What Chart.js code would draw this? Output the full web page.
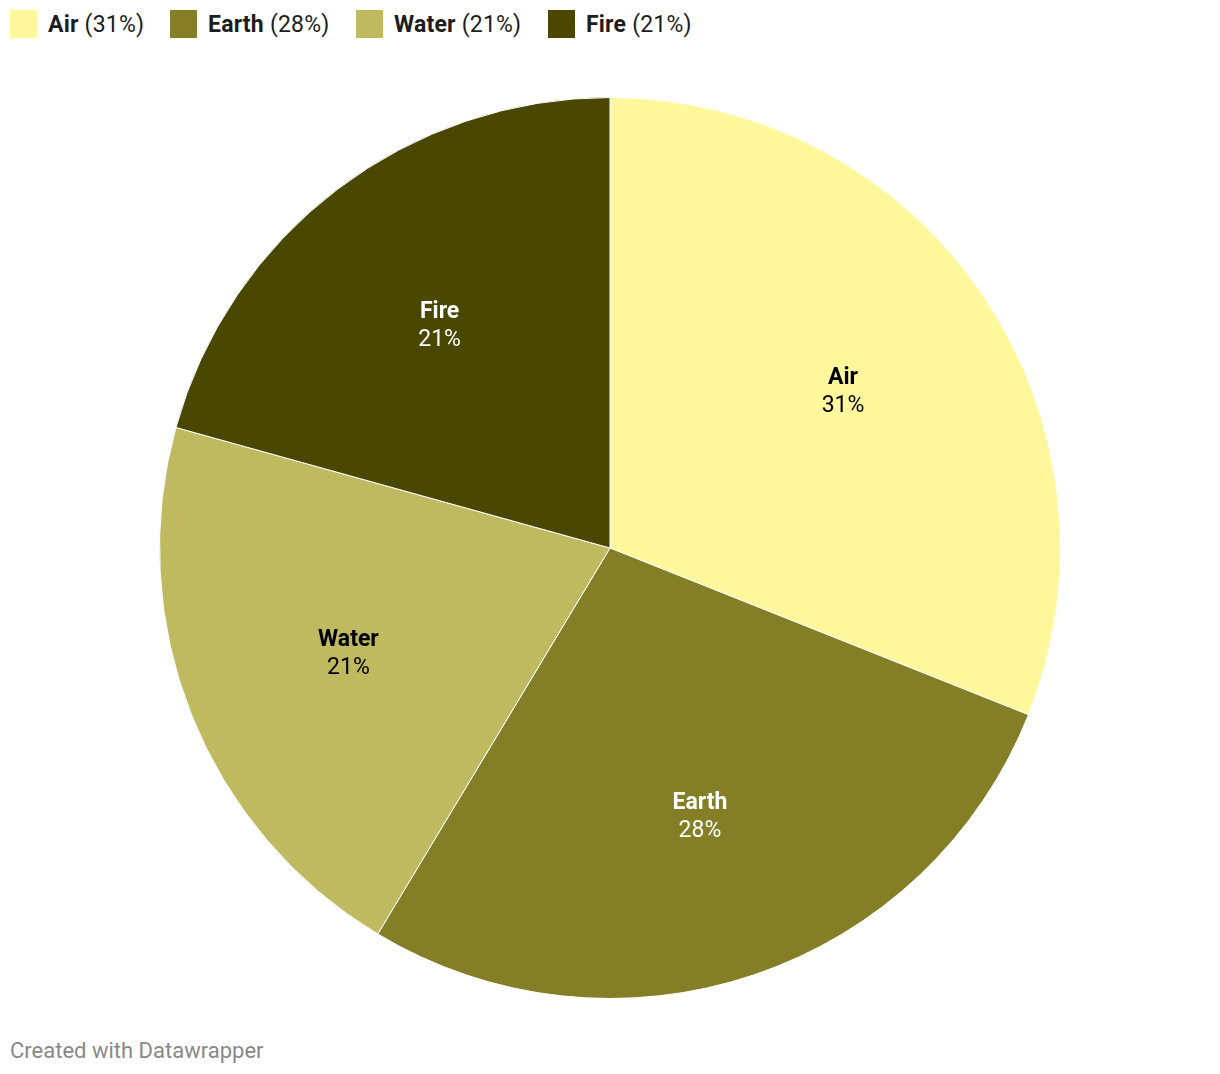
<!DOCTYPE html>
<html>
<head>
<meta charset="utf-8">
<script src="https://cdn.jsdelivr.net/npm/chart.js@4"></script>
<style>
  body { margin: 0; background: #fff; font-family: Roboto, sans-serif; width: 1220px; height: 1074px; position: relative; overflow: hidden; }
  .item { position: absolute; top: 10px; display: flex; align-items: center; height: 28px; font-size: 23px; color: #1d1d1d; white-space: nowrap; letter-spacing: 0.2px; }
  .swatch { width: 27px; height: 28px; margin-right: 11px; }
  .item b { font-weight: 700; margin-right: 6px; }
  #wrap { position: absolute; left: 0; top: 97px; width: 1220px; height: 902px; }
  #footer { position: absolute; left: 10px; top: 1038px; font-size: 22px; color: #888; }
</style>
</head>
<body>
<div id="legend"></div>
<div id="wrap"><canvas id="pieChart" width="1220" height="902"></canvas></div>
<div id="footer">Created with Datawrapper</div>
<script>
// Data
const labels = ['Air', 'Earth', 'Water', 'Fire'];
const values = [9, 8, 6, 6];
const colors = ['#fef79b', '#847f27', '#bfb960', '#4a4700'];
const labelColors = ['#000000', '#ffffff', '#000000', '#ffffff'];
const legendLeft = [10, 170, 356, 548];

const total = values.reduce((a, b) => a + b, 0);
const pct = values.map(v => Math.round(v / total * 100));

// Build the legend
const legend = document.getElementById('legend');
labels.forEach((name, i) => {
    const item = document.createElement('div');
    item.className = 'item';
    item.style.left = legendLeft[i] + 'px';
    item.innerHTML = '<span class="swatch" style="background:' + colors[i] + '"></span><b>' + name + '</b>(' + pct[i] + '%)';
    legend.appendChild(item);
});

// Plugin to draw name and percentage inside each slice
const sliceLabels = {
    id: 'sliceLabels',
    afterDatasetsDraw(chart) {
        const ctx = chart.ctx;
        const arcs = chart.getDatasetMeta(0).data;
        ctx.save();
        ctx.textAlign = 'center';
        ctx.textBaseline = 'middle';
        arcs.forEach((arc, i) => {
            const mid = (arc.startAngle + arc.endAngle) / 2;
            const r = arc.outerRadius * 0.625;
            const x = arc.x + Math.cos(mid) * r;
            const y = arc.y + Math.sin(mid) * r;
            ctx.fillStyle = labelColors[i];
            ctx.font = 'bold 23px Roboto';
            ctx.fillText(labels[i], x, y - 12);
            ctx.font = '23px Roboto';
            ctx.fillText(pct[i] + '%', x, y + 16);
        });
        ctx.restore();
    }
};

new Chart(document.getElementById('pieChart'), {
    type: 'pie',
    data: {
        labels: labels,
        datasets: [{
            data: values,
            backgroundColor: colors,
            borderColor: '#ffffff',
            borderWidth: 1,
            hoverOffset: 0
        }]
    },
    options: {
        responsive: false,
        animation: false,
        layout: { padding: 0 },
        plugins: {
            legend: { display: false },
            tooltip: { enabled: false }
        }
    },
    plugins: [sliceLabels]
});
</script>
</body>
</html>
